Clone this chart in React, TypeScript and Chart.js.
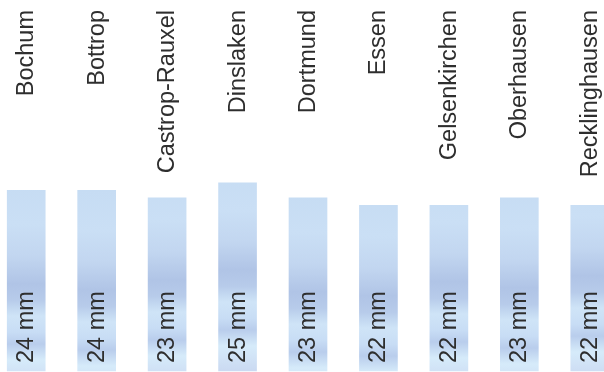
import React, { useEffect, useRef } from "react";
import { Chart, registerables } from "chart.js";

Chart.register(...registerables);

const cities = ["Bochum", "Bottrop", "Castrop-Rauxel", "Dinslaken", "Dortmund", "Essen", "Gelsenkirchen", "Oberhausen", "Recklinghausen"];
const rainfallMm = [24, 24, 23, 25, 23, 22, 22, 23, 22];
const unit = "mm";

const FONT = '"Liberation Sans", Arial, Helvetica, sans-serif';

// subtle per-bar shift of the icy texture (style only)
const textureShift = [0, 6, -4, -14, 8, 12, -2, 4, -8];

const labelPlugin = {
  id: "barLabels",
  afterDatasetsDraw(chart: any) {
    const ctx = chart.ctx;
    const meta = chart.getDatasetMeta(0);
    ctx.save();
    ctx.fillStyle = "#2e2e2e";
    ctx.font = `23.5px ${FONT}`;
    ctx.textBaseline = "alphabetic";
    meta.data.forEach((bar: any, i: number) => {
      const x = bar.x + 7;
      ctx.save();
      ctx.translate(x, 10);
      ctx.rotate(-Math.PI / 2);
      ctx.textAlign = "right";
      ctx.fillText(cities[i], 0, 0);
      ctx.restore();
      ctx.save();
      ctx.translate(x, 363);
      ctx.rotate(-Math.PI / 2);
      ctx.textAlign = "left";
      ctx.fillText(`${rainfallMm[i]} ${unit}`, 0, 0);
      ctx.restore();
    });
    ctx.restore();
  },
};

export default function App() {
  const canvasRef = useRef<HTMLCanvasElement | null>(null);

  useEffect(() => {
    document.body.style.margin = "0";
    const canvas = canvasRef.current;
    if (!canvas) return;
    const chart = new Chart(canvas, {
      type: "bar",
      data: {
        labels: cities,
        datasets: [
          {
            data: rainfallMm,
            barThickness: 38,
            borderWidth: 0,
            backgroundColor: (c: any) => {
              const s = textureShift[c.dataIndex ?? 0] || 0;
              const g = c.chart.ctx.createLinearGradient(0, 184 + s, 0, 384 + s);
              g.addColorStop(0.0, "#c6dcf3");
              g.addColorStop(0.2, "#cadff5");
              g.addColorStop(0.36, "#c2d6f0");
              g.addColorStop(0.5, "#b0c4e6");
              g.addColorStop(0.58, "#b7cbea");
              g.addColorStop(0.66, "#cfe4f7");
              g.addColorStop(0.74, "#c8ddf5");
              g.addColorStop(0.8, "#b9cdec");
              g.addColorStop(0.88, "#d6ebfa");
              g.addColorStop(1.0, "#cbdaf2");
              return g;
            },
          },
        ],
      },
      options: {
        animation: false,
        responsive: true,
        maintainAspectRatio: false,
        layout: { padding: 0 },
        plugins: { legend: { display: false }, tooltip: { enabled: false } },
        scales: {
          x: { display: false, offset: true },
          y: { display: false, min: -0.16, max: 49.3 },
        },
      },
      plugins: [labelPlugin],
    });
    return () => chart.destroy();
  }, []);

  return (
    <div style={{ position: "fixed", left: 0, top: 0, width: 604, height: 372, overflow: "hidden", background: "#fff" }}>
      <div style={{ position: "absolute", left: -9, top: 0, width: 634, height: 372 }}>
        <canvas ref={canvasRef} />
      </div>
    </div>
  );
}
